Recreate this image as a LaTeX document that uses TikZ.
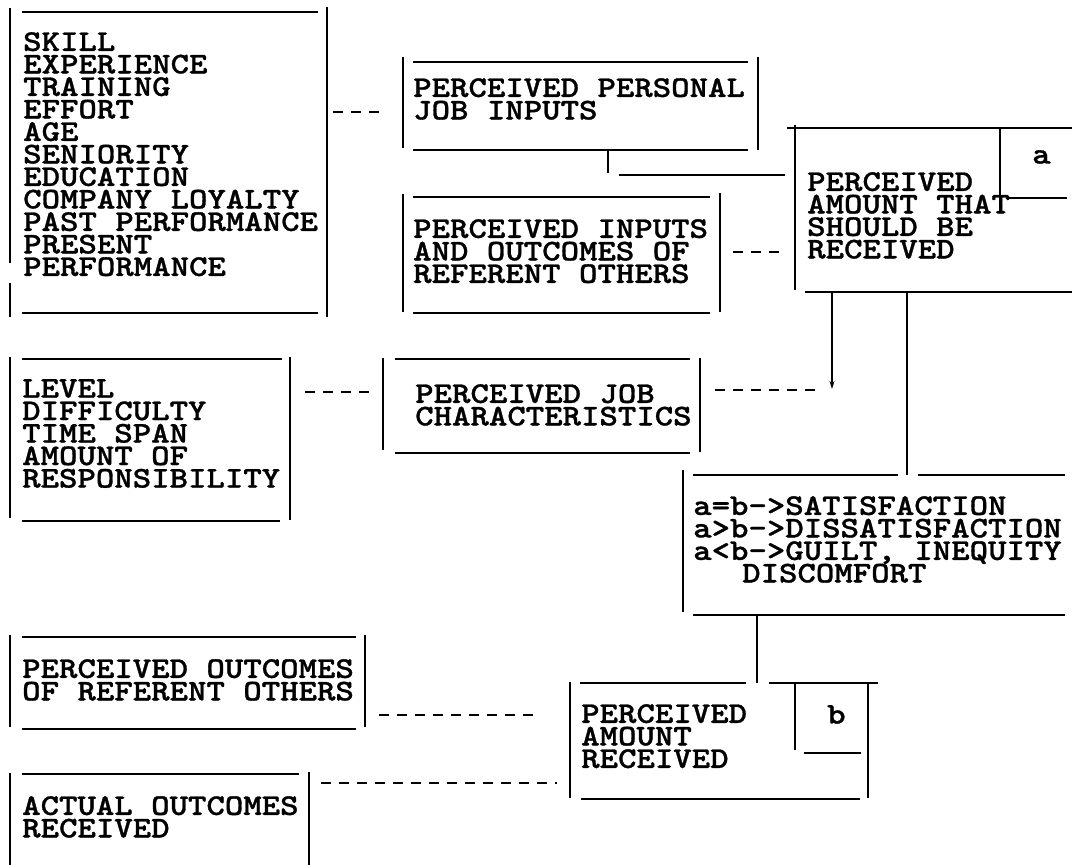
\documentclass[tikz,border=0pt]{standalone}
\usepackage{fontspec}
\newfontfamily\twfont{lmmonolt10-bold.otf}[FakeStretch=1.17,FakeBold=1.0]
\usetikzlibrary{arrows.meta}
\tikzset{
  tw/.style={anchor=north west, inner sep=0pt, align=left,
    font={\twfont\fontsize{30}{22.5}\selectfont\lineskiplimit=-100pt}},
  ln/.style={line width=1.8pt},
  dsh/.style={line width=1.8pt, dash pattern=on 10pt off 8pt},
  arr/.style={line width=1.8pt, -{Stealth[length=8pt,width=5pt]}},
}
\begin{document}
\begin{tikzpicture}[x=1pt,y=-1pt]
\useasboundingbox[fill=white] (0,0) rectangle (1072,865);

% ---------- Box 1: list of inputs
\node[tw] (inputs) at (23,32) {SKILL\\EXPERIENCE\\TRAINING\\EFFORT\\AGE\\SENIORITY\\EDUCATION\\COMPANY LOYALTY\\PAST PERFORMANCE\\PRESENT\\PERFORMANCE};
\draw[ln] (10,8) -- (10,263) (10,283) -- (10,317);
\draw[ln] (22,12) -- (318,12) (22,313) -- (318,313);
\draw[ln] (327,7) -- (327,317);

% ---------- Box 2: personal job inputs
\node[tw] (pjin) at (413,78) {PERCEIVED PERSONAL\\JOB INPUTS};
\draw[ln] (403,57) -- (403,148) (758,57) -- (758,150);
\draw[ln] (413,62) -- (748,62) (413,150) -- (748,150);

% ---------- Box 3: referent others inputs/outcomes
\node[tw] (refio) at (413,219) {PERCEIVED INPUTS\\AND OUTCOMES OF\\REFERENT OTHERS};
\draw[ln] (403,194) -- (403,312) (720,193) -- (720,312);
\draw[ln] (413,197) -- (710,197) (413,313) -- (710,313);

% ---------- Box 4: amount that should be received
\node[tw] (should) at (807,172) {PERCEIVED\\AMOUNT THAT\\SHOULD BE\\RECEIVED};
\node[tw] (a) at (1032,150) {a};
\draw[ln] (787,128) -- (1072,128) (805,292) -- (1072,292);
\draw[ln] (795,125) -- (795,290);
\draw[ln] (1000,128) -- (1000,200) (1008,198) -- (1067,198);

% ---------- Box: job characteristics list
\node[tw] (levels) at (22,379) {LEVEL\\DIFFICULTY\\TIME SPAN\\AMOUNT OF\\RESPONSIBILITY};
\draw[ln] (10,357) -- (10,518) (290,357) -- (290,520);
\draw[ln] (22,359) -- (282,359) (22,521) -- (280,521);

% ---------- Box: perceived job characteristics
\node[tw] (pjc) at (415,384) {PERCEIVED JOB\\CHARACTERISTICS};
\draw[ln] (383,358) -- (383,450) (700,358) -- (700,452);
\draw[ln] (395,359) -- (690,359) (395,453) -- (690,453);

% ---------- Box: comparison
\node[tw] (cmp) at (693,496) {a=b->SATISFACTION\\a>b->DISSATISFACTION\\a<b->GUILT, INEQUITY\\\hspace*{49pt}DISCOMFORT};
\draw[ln] (693,475) -- (898,475) (918,475) -- (1065,475);
\draw[ln] (683,470) -- (683,612);
\draw[ln] (693,615) -- (1065,615);

% ---------- Box: perceived outcomes of referent others
\node[tw] (pout) at (22,659) {PERCEIVED OUTCOMES\\OF REFERENT OTHERS};
\draw[ln] (10,635) -- (10,727) (365,635) -- (365,727);
\draw[ln] (22,637) -- (356,637) (22,729) -- (356,729);

% ---------- Box: actual outcomes received
\node[tw] (actual) at (22,796) {ACTUAL OUTCOMES\\RECEIVED};
\draw[ln] (10,773) -- (10,865) (309,772) -- (309,865);
\draw[ln] (22,774) -- (299,774);

% ---------- Box: perceived amount received
\node[tw] (recv) at (581,704) {PERCEIVED\\AMOUNT\\RECEIVED};
\node[tw] (b) at (827,705) {b};
\draw[ln] (570,682) -- (570,798) (868,683) -- (868,798);
\draw[ln] (580,683) -- (746,683) (769,683) -- (878,683);
\draw[ln] (581,799) -- (860,799);
\draw[ln] (795,683) -- (795,750) (804,753) -- (861,753);

% ---------- connector end points
\coordinate (c1a) at (333,112); \coordinate (c1b) at (380,112);
\coordinate (c2a) at (608,150); \coordinate (c2b) at (608,173);
\coordinate (c3a) at (619,175); \coordinate (c3b) at (785,175);
\coordinate (c4a) at (733,252); \coordinate (c4b) at (782,252);
\coordinate (c5a) at (305,392); \coordinate (c5b) at (369,392);
\coordinate (c6a) at (715,390); \coordinate (c6b) at (818,390);
\coordinate (c7a) at (832,292); \coordinate (c7b) at (832,389);
\coordinate (c8a) at (907,292); \coordinate (c8b) at (907,475);
\coordinate (c9a) at (757,615); \coordinate (c9b) at (757,683);
\coordinate (c10a) at (379,715); \coordinate (c10b) at (537,715);
\coordinate (c11a) at (321,783); \coordinate (c11b) at (557,783);

\draw[dsh] (c1a) -- (c1b);
\draw[ln] (c2a) -- (c2b);
\draw[ln] (c3a) -- (c3b);
\draw[dsh] (c4a) -- (c4b);
\draw[dsh] (c5a) -- (c5b);
\draw[dsh] (c6a) -- (c6b);
\draw[arr] (c7a) -- (c7b);
\draw[ln] (c8a) -- (c8b);
\draw[ln] (c9a) -- (c9b);
\draw[dsh] (c10a) -- (c10b);
\draw[dsh] (c11a) -- (c11b);
\end{tikzpicture}
\end{document}
